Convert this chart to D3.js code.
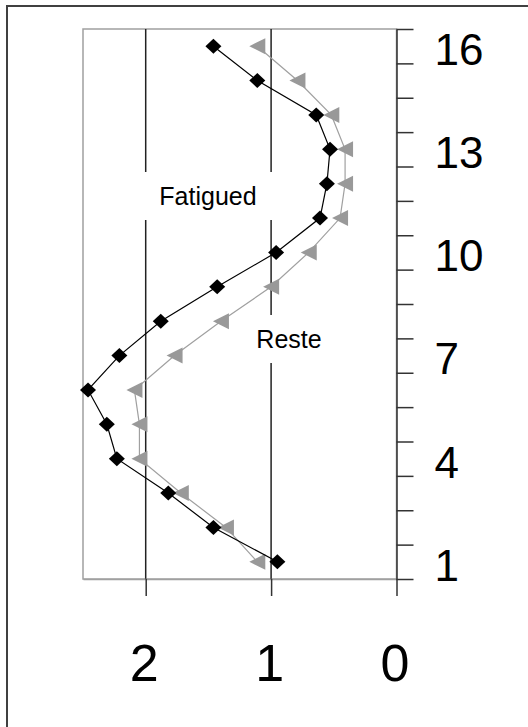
<!DOCTYPE html>
<html>
<head>
<meta charset="utf-8">
<script src="https://cdn.jsdelivr.net/npm/d3@7"></script>
<style>
  body { margin: 0; background: #fff; }
  text { font-family: "Liberation Sans", Arial, sans-serif; fill: #000; }
</style>
</head>
<body>
<svg id="chart" width="528" height="727"></svg>
<script>
const categories = [1, 2, 3, 4, 5, 6, 7, 8, 9, 10, 11, 12, 13, 14, 15, 16];
const fatigued = [0.95, 1.46, 1.82, 2.23, 2.31, 2.46, 2.21, 1.88, 1.43, 0.96, 0.61, 0.555, 0.53, 0.64, 1.11, 1.46];
const rested = [1.11, 1.36, 1.72, 2.05, 2.05, 2.09, 1.77, 1.40, 1.00, 0.70, 0.45, 0.41, 0.41, 0.52, 0.79, 1.11];
const yLabels = [1, 4, 7, 10, 13, 16];
const xTicks = [2, 1, 0];
const seriesNames = ["Fatigued", "Reste"];

(function() {
    const svg = d3.select("#chart");

    const pLeft = 83, pRight = 396.5, pTop = 29, pBottom = 579;

    const x = d3.scaleLinear().domain([2.5, 0]).range([pLeft, pRight]);
    const y = d3.scaleLinear().domain([0.5, 16.5]).range([pBottom, pTop]);

    // outer frame (only top and left edge fall inside the picture)
    svg.append("path")
        .attr("d", `M7,727 V6 H528`)
        .attr("fill", "none")
        .attr("stroke", "#404040")
        .attr("stroke-width", 2);

    // plot area border
    svg.append("rect")
        .attr("x", pLeft).attr("y", pTop)
        .attr("width", pRight - pLeft).attr("height", pBottom - pTop)
        .attr("fill", "none")
        .attr("stroke", "#a0a0a0")
        .attr("stroke-width", 1.5);

    // vertical gridlines
    svg.append("g").selectAll("line")
        .data([2, 1])
        .join("line")
        .attr("x1", d => x(d)).attr("x2", d => x(d))
        .attr("y1", pTop).attr("y2", pBottom)
        .attr("stroke", "#222")
        .attr("stroke-width", 1.5);

    // x axis (bottom)
    const xAxis = svg.append("g")
        .attr("transform", `translate(0,${pBottom})`)
        .call(d3.axisBottom(x).tickValues(xTicks).tickSize(17).tickSizeOuter(0).tickPadding(48).tickFormat(d3.format("d")));
    xAxis.select(".domain").attr("stroke", "#a0a0a0").attr("stroke-width", 1.5);
    xAxis.selectAll(".tick line").attr("stroke", "#333").attr("stroke-width", 1.5);
    xAxis.selectAll(".tick text")
        .style("font-size", "52px")
        .attr("font-family", null)
        .attr("dy", "0.71em")
        .attr("dx", -2);

    // y axis (right)
    const yAxis = svg.append("g")
        .attr("transform", `translate(${pRight},0)`)
        .call(d3.axisRight(y).tickValues(d3.range(0.5, 17, 1)).tickSize(17).tickSizeOuter(0).tickFormat(""));
    yAxis.select(".domain").attr("stroke", "#333").attr("stroke-width", 1.5);
    yAxis.selectAll(".tick line").attr("stroke", "#333").attr("stroke-width", 1.5);

    svg.append("g").selectAll("text")
        .data(yLabels)
        .join("text")
        .attr("x", pRight + 38)
        .attr("y", d => y(d) + 3)
        .attr("dy", "0.36em")
        .style("font-size", "44px")
        .text(d => d);

    // series labels with white boxes
    const labelBoxes = [
      { name: seriesNames[0], cx: 208, cy: 196, w: 138, h: 48 },
      { name: seriesNames[1], cx: 289, cy: 339, w: 88, h: 48 }
    ];
    const lab = svg.append("g").selectAll("g")
        .data(labelBoxes)
        .join("g");
    lab.append("rect")
        .attr("x", d => d.cx - d.w / 2).attr("y", d => d.cy - d.h / 2)
        .attr("width", d => d.w).attr("height", d => d.h)
        .attr("fill", "#fff");
    lab.append("text")
        .attr("x", d => d.cx).attr("y", d => d.cy)
        .attr("text-anchor", "middle")
        .attr("dy", "0.36em")
        .style("font-size", "25px")
        .text(d => d.name);

    // lines
    const line = d3.line()
        .x(d => x(d[1]))
        .y(d => y(d[0]));

    const restPts = categories.map((c, i) => [c, rested[i]]);
    const fatPts = categories.map((c, i) => [c, fatigued[i]]);

    svg.append("path")
        .datum(restPts)
        .attr("d", line)
        .attr("fill", "none")
        .attr("stroke", "#a0a0a0")
        .attr("stroke-width", 1.2);

    svg.append("g").selectAll("path")
        .data(restPts)
        .join("path")
        .attr("transform", d => `translate(${x(d[1])},${y(d[0])})`)
        .attr("d", "M-8,0 L8,-8 L8,8 Z")
        .attr("fill", "#999");

    svg.append("path")
        .datum(fatPts)
        .attr("d", line)
        .attr("fill", "none")
        .attr("stroke", "#000")
        .attr("stroke-width", 1.2);

    svg.append("g").selectAll("path")
        .data(fatPts)
        .join("path")
        .attr("transform", d => `translate(${x(d[1])},${y(d[0])})`)
        .attr("d", "M0,-7.5 L8,0 L0,7.5 L-8,0 Z")
        .attr("fill", "#000");
})();
</script>
</body>
</html>
